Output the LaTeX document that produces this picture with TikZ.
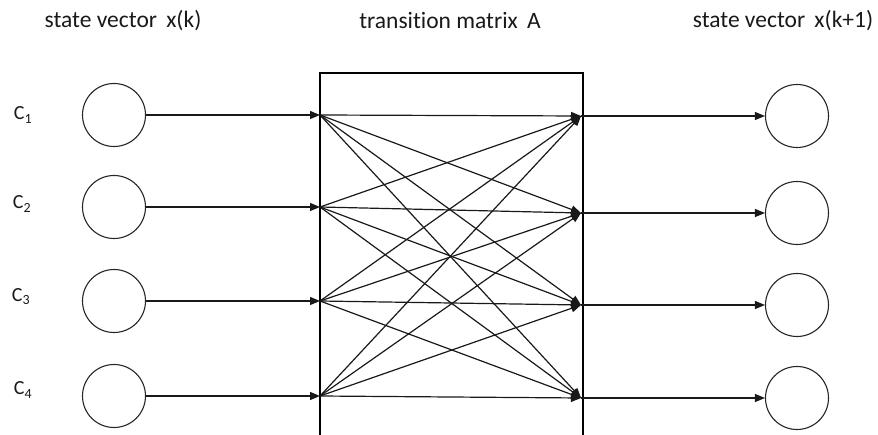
\documentclass[tikz,border=0pt]{standalone}
\usepackage{fontspec}
\setmainfont{Carlito}[Ligatures=NoCommon]
\usetikzlibrary{arrows.meta}
\begin{document}
\begin{tikzpicture}[x=1pt,y=-1pt,
  state/.style={circle,draw=black!85,line width=1.1pt,minimum size=63pt,inner sep=0pt},
  link/.style={draw=black!90,line width=1.2pt,-{Triangle[length=10pt,width=8pt]}},
  title/.style={font=\fontsize{23.5}{27}\selectfont,text=black!90,inner sep=0pt},
  clabel/.style={font=\fontsize{20}{23}\selectfont,text=black!90,inner sep=0pt},
  frame/.style={draw=black,line width=1.2pt}]
\useasboundingbox (0,0) rectangle (878,435);

% headings
\node[title] (hx)  at (123,21) {state vector\, x(k)};
\node[title] (hA)  at (450,21) {transition matrix\, A};
\node[title] (hx1) at (783,21) {state vector\, x(k+1)};

% open box holding the transition matrix
\draw[frame] (320,436) -- (320,73) -- (583,73) -- (583,436);

% input states
\foreach \i/\y in {1/115,2/207,3/301,4/396}{
  \node[state] (c\i) at (114,\y) {};
  \coordinate (a\i) at (320,\y);
}
\node[clabel] (l1) at (23,115) {C\textsubscript{1}};
\node[clabel] (l2) at (22,204) {C\textsubscript{2}};
\node[clabel] (l3) at (21,297) {C\textsubscript{3}};
\node[clabel] (l4) at (23,390) {C\textsubscript{4}};

% output states
\foreach \j/\y in {1/116,2/213,3/305,4/398}{
  \node[state] (d\j) at (797,\y) {};
  \coordinate (b\j) at (581,\y);
}

% connectors into the box
\foreach \i in {1,...,4}{
  \draw[link] (c\i) -- (a\i);
}
% every input feeds every output
\foreach \i in {1,...,4}{
  \foreach \j in {1,...,4}{
    \draw[link] (a\i) -- (b\j);
  }
}
% connectors out of the box
\foreach \j in {1,...,4}{
  \draw[link] (b\j) -- (d\j);
}
\end{tikzpicture}
\end{document}
